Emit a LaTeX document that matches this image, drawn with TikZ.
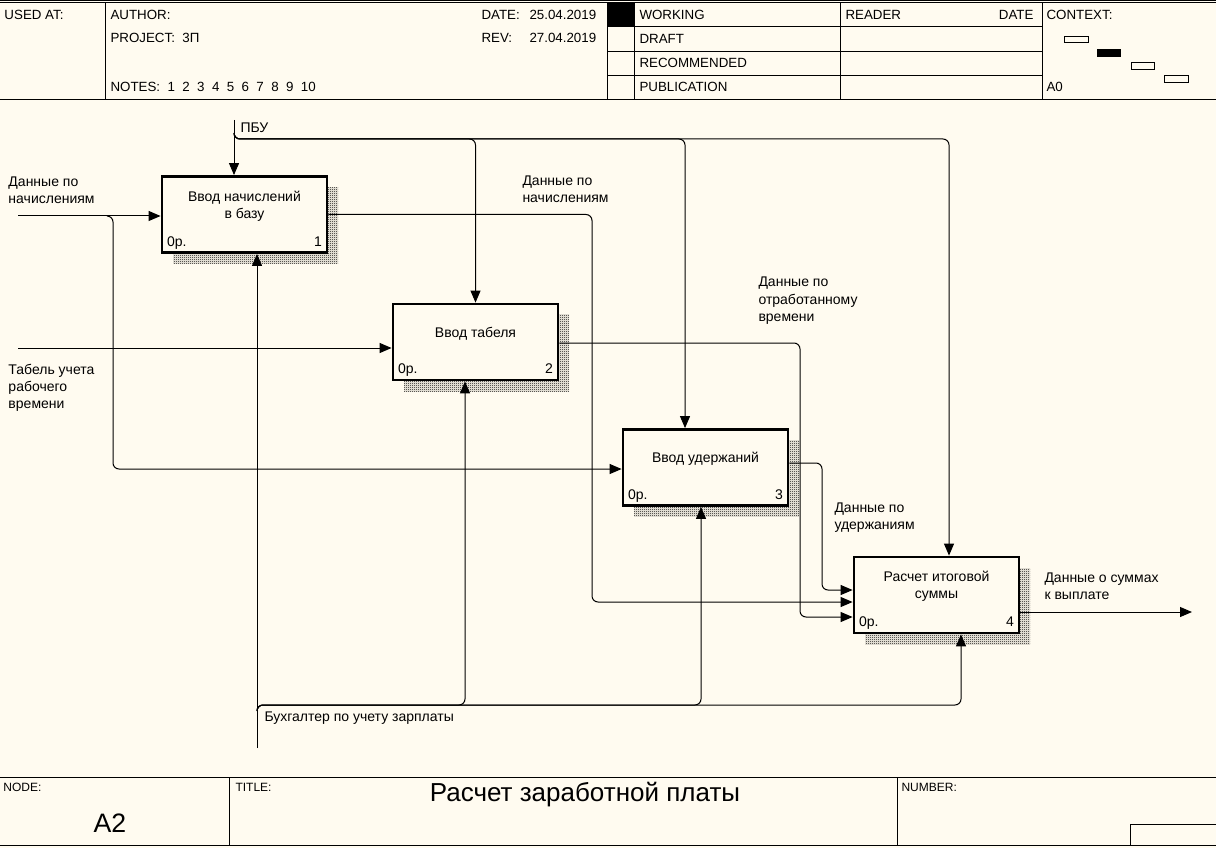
\documentclass[tikz,border=0pt]{standalone}
\usepackage{fontspec}
\setmainfont{Liberation Sans}
\usetikzlibrary{arrows.meta,patterns,shadows}

\definecolor{paper}{RGB}{255,251,240}
\newcommand{\hdrfont}{\fontsize{10}{12}\selectfont}
\newcommand{\lblfont}{\fontsize{10.5}{12.75}\selectfont}
\newcommand{\tinyfont}{\fontsize{9}{10}\selectfont}
\pgfdeclarepatternformonly{fine dots}{\pgfpointorigin}{\pgfpoint{1.5pt}{1.5pt}}{\pgfpoint{1.5pt}{1.5pt}}{%
	\pgfpathrectangle{\pgfpointorigin}{\pgfpoint{0.75pt}{0.75pt}}%
	\pgfpathrectangle{\pgfpoint{0.75pt}{0.75pt}}{\pgfpoint{0.75pt}{0.75pt}}%
	\pgfusepath{fill}}
\tikzset{every picture/.style={line width=0.75pt}}

\begin{document}
\begin{tikzpicture}[x=0.75pt,y=0.75pt,yscale=-1,xscale=1,
	hdr/.style={anchor=base west,inner sep=0pt,font=\hdrfont},
	lbl/.style={anchor=base west,inner sep=0pt,align=left,font=\lblfont},
	func/.style={draw,line width=2.1pt,fill=paper,minimum width=123.75pt,minimum height=57pt,inner sep=0pt,
		general shadow={shadow xshift=8.25pt,shadow yshift=-8.25pt,draw=none,pattern=fine dots,pattern color=black},
		path picture={\draw[line width=1.5pt] ([yshift=7.5pt]path picture bounding box.north west) -- ([xshift=7.5pt]path picture bounding box.north west);}},
	ftext/.style={align=center,inner sep=0pt,font=\lblfont},
	fcorner/.style={anchor=base west,inner sep=0pt,font=\lblfont},
	fnum/.style={anchor=base east,inner sep=0pt,font=\lblfont},
	arr/.style={-{Triangle[length=9pt,width=7.5pt]},rounded corners=4.5pt}]
	\useasboundingbox (0,0) rectangle (1216,848);
	\fill[paper] (0,0) rectangle (1216,848);
	
	%Header Lines
	\draw (0,0.5) -- (1216,0.5);
	\draw (0,3) -- (1216,3);
	\draw (0,100) -- (1216,100);
	\draw (105,3) -- (105,100);
	\draw (607,3) -- (607,100);
	\draw (634.5,3) -- (634.5,100);
	\draw (840,3) -- (840,100);
	\draw (1042,3) -- (1042,100);
	\draw (607,27) -- (1042,27);
	\draw (607,52) -- (1042,52);
	\draw (607,76) -- (1042,76);
	\fill (607,3) rectangle (634.5,27);
	%Context Boxes
	\draw (1064,37) rectangle (1088,43);
	\fill (1097,49) rectangle (1121,57);
	\draw (1131,63) rectangle (1154,70);
	\draw (1164,76) rectangle (1188,83);
	
	%Footer Lines
	\draw (0,777) -- (1216,777);
	\draw (0,845.5) -- (1216,845.5);
	\draw (229.5,777) -- (229.5,845.5);
	\draw (897,777) -- (897,845.5);
	\draw (1130,845.5) -- (1130,824) -- (1216,824);
	
	% Header Text
	\node[hdr] (usedat) at (4,20) {USED AT:};
	\node[hdr] (author) at (110,20) {AUTHOR:};
	\node[hdr] (project) at (110,43) {PROJECT:~~3П};
	\node[hdr] (notes) at (110,92) {NOTES:~~1~~2~~3~~4~~5~~6~~7~~8~~9~~10};
	\node[hdr] (date) at (481,20) {DATE:};
	\node[hdr] (datev) at (529,20) {25.04.2019};
	\node[hdr] (rev) at (481,43) {REV:};
	\node[hdr] (revv) at (529,43) {27.04.2019};
	\node[hdr] (working) at (639,20) {WORKING};
	\node[hdr] (draft) at (639,44) {DRAFT};
	\node[hdr] (recommended) at (639,68) {RECOMMENDED};
	\node[hdr] (publication) at (639,92) {PUBLICATION};
	\node[hdr] (reader) at (845,20) {READER};
	\node[hdr,anchor=base east] (rdate) at (1034,20) {DATE};
	\node[hdr] (context) at (1046,20) {CONTEXT:};
	\node[hdr] (ctxnode) at (1046,92) {A0};
	
	% Footer Text
	\node[hdr,font=\tinyfont] (nodelbl) at (3,791) {NODE:};
	\node[anchor=base,inner sep=0pt,font=\fontsize{20}{24}\selectfont] (nodeid) at (110,832) {A2};
	\node[hdr,font=\tinyfont] (titlelbl) at (235,791) {TITLE:};
	\node[anchor=base,inner sep=0pt,font=\fontsize{19.5}{23}\selectfont] (title) at (585,801) {Расчет заработной платы};
	\node[hdr,font=\tinyfont] (numberlbl) at (901,791) {NUMBER:};
	
	%Function Boxes
	\node[func] (b1) at (244.5,214.5) {};
	\node[ftext] (t1) at ([yshift=23pt]b1.north) {Ввод начислений\\в базу};
	\node[fcorner] (o1) at ([xshift=4.5pt,yshift=-5.6pt]b1.south west) {0р.};
	\node[fnum] (n1) at ([xshift=-4.5pt,yshift=-5.6pt]b1.south east) {1};
	
	\node[func] (b2) at (475.5,342) {};
	\node[ftext] (t2) at ([yshift=23pt]b2.north) {Ввод табеля};
	\node[fcorner] (o2) at ([xshift=4.5pt,yshift=-5.6pt]b2.south west) {0р.};
	\node[fnum] (n2) at ([xshift=-4.5pt,yshift=-5.6pt]b2.south east) {2};
	
	\node[func] (b3) at (705.5,467.5) {};
	\node[ftext] (t3) at ([yshift=23pt]b3.north) {Ввод удержаний};
	\node[fcorner] (o3) at ([xshift=4.5pt,yshift=-5.6pt]b3.south west) {0р.};
	\node[fnum] (n3) at ([xshift=-4.5pt,yshift=-5.6pt]b3.south east) {3};
	
	\node[func] (b4) at (936.5,595) {};
	\node[ftext] (t4) at ([yshift=23pt]b4.north) {Расчет итоговой\\суммы};
	\node[fcorner] (o4) at ([xshift=4.5pt,yshift=-5.6pt]b4.south west) {0р.};
	\node[fnum] (n4) at ([xshift=-4.5pt,yshift=-5.6pt]b4.south east) {4};
	
	%Inputs
	\coordinate (in1) at (18,216);
	\coordinate (in2) at (18,348);
	\coordinate (inj) at (113,216);
	\draw[arr] (in1) -- (in1 -| b1.west);
	\draw[arr] ([xshift=-4.5pt]inj) -- (inj) -- (inj |- 0,469) -- (b3.west |- 0,469);
	\draw[arr] (in2) -- (in2 -| b2.west);
	
	%Controls
	\coordinate (pbu) at (234,120);
	\coordinate (pbuj) at (234,139);
	\draw[arr] (pbu) -- (pbu |- b1.north);
	\draw[arr] ([yshift=-4.5pt]pbuj) -- (pbuj) -- (pbuj -| b2.north) -- (b2.north);
	\draw[arr] ([yshift=-4.5pt]pbuj) -- (pbuj) -- (685,139) -- (685,139 |- b3.north);
	\draw[arr] ([yshift=-4.5pt]pbuj) -- (pbuj) -- (949,139) -- (949,139 |- b4.north);
	
	%Mechanisms
	\coordinate (mech) at (257,748);
	\coordinate (mechj) at (257,705);
	\draw[arr] (mech) -- (mech |- b1.south);
	\draw[arr] ([yshift=4.5pt]mechj) -- (mechj) -- (465,705) -- (465,705 |- b2.south);
	\draw[arr] ([yshift=4.5pt]mechj) -- (mechj) -- (701,705) -- (701,705 |- b3.south);
	\draw[arr] ([yshift=4.5pt]mechj) -- (mechj) -- (961,705) -- (961,705 |- b4.south);
	
	%Outputs
	\coordinate (res) at (1192,612);
	\draw[arr] (b1.east) -- (b1.east -| 592,0) -- (592,602) -- (b4.west |- 0,602);
	\draw[arr] (b2.east |- 0,343) -- (800,343) -- (800,617) -- (b4.west |- 0,617);
	\draw[arr] (b3.east |- 0,463) -- (822,463) -- (822,590) -- (b4.west |- 0,590);
	\draw[arr] (b4.east |- res) -- (res);
	
	% Text Node
	\node[lbl] (l1) at (8,204) {Данные по\\начислениям};
	\node[lbl] (l2) at (8,408) {Табель учета\\рабочего\\времени};
	\node[lbl] (l3) at (240,133) {ПБУ};
	\node[lbl] (l4) at (522,203) {Данные по\\начислениям};
	\node[lbl] (l5) at (758,321) {Данные по\\отработанному\\времени};
	\node[lbl] (l6) at (834,529) {Данные по\\удержаниям};
	\node[lbl] (l7) at (1044,599) {Данные о суммах\\к выплате};
	\node[lbl] (l8) at (264,721) {Бухгалтер по учету зарплаты};
	
\end{tikzpicture}
\end{document}
